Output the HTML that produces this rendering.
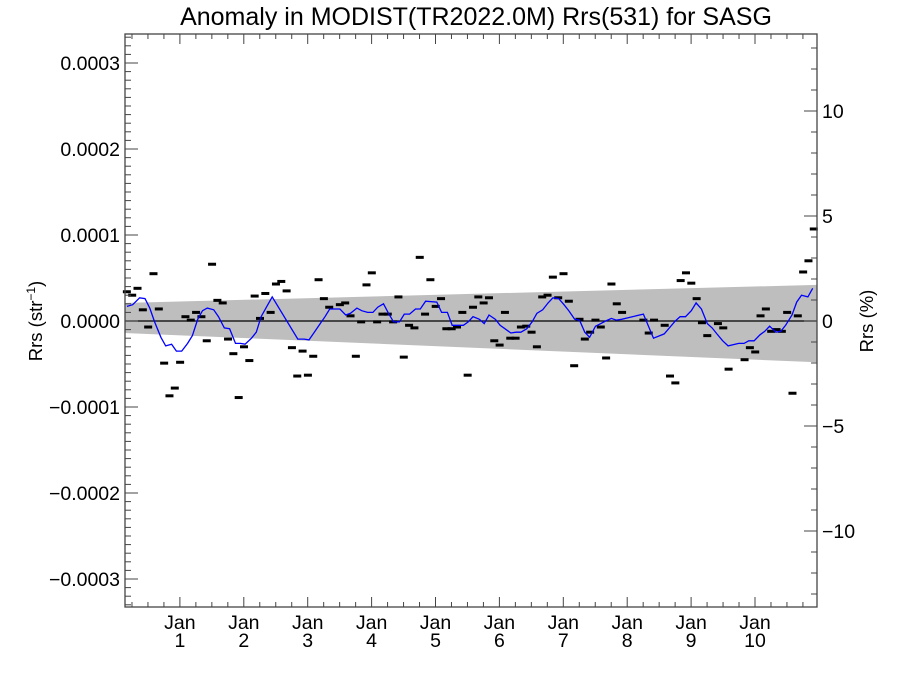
<!DOCTYPE html>
<html><head><meta charset="utf-8"><style>
body{margin:0;background:#fff;}
svg{display:block;font-family:"Liberation Sans",sans-serif;}
</style></head><body>
<svg id="chart" width="900" height="675" viewBox="0 0 900 675">
<rect width="900" height="675" fill="#fff"/>
<text x="476" y="25" text-anchor="middle" font-size="25">Anomaly in MODIST(TR2022.0M) Rrs(531) for SASG</text>
<text transform="translate(42,321) rotate(-90)" text-anchor="middle" font-size="18.5">Rrs (str<tspan baseline-shift="super" font-size="12">−1</tspan>)</text>
<text transform="translate(873,321) rotate(-90)" text-anchor="middle" font-size="18.5">Rrs (%)</text>
<g id="band"></g>
<g id="zero"></g>
<g id="dots"></g>
<g id="smooth"></g>
<g id="axes"></g>
</svg>
<script>
// monthly anomaly points: month index since start, value in 1e-6 sr^-1
const startYear = 0.17;
const dotMonths = [0,1,2,3,4,5,6,7,8,9,10,11,12,13,14,15,16,17,18,19,20,21,22,23,24,25,26,27,28,29,30,31,32,33,34,35,36,37,38,40,41,42,43,44,45,46,47,48,49,50,51,52,53,54,55,56,57,58,59,60,61,62,63,64,65,66,67,68,69,70,71,72,73,74,75,76,77,78,79,80,81,82,83,84,85,86,87,88,89,90,91,92,93,97,98,99,101,102,103,104,105,106,107,108,109,111,112,113,116,117,118,119,120,121,122,123,124,125,126,127,128,129];
const dotValues = [34,30,38,13,-7,55,14,-49,-87,-78,-48,5,1,10,5,-23,66,24,21,-21,-38,-89,-30,-46,29,3,32,10,43,46,35,-31,-64,-35,-63,-41,48,26,16,19,21,6,-41,-1,42,56,-1,8,8,-1,28,-42,-5,-8,74,8,48,17,26,-9,-9,-7,10,-63,16,28,21,27,-23,-28,10,-20,-20,-7,-6,-13,-30,28,30,51,27,55,23,-52,2,-21,-13,1,-7,-43,43,20,10,1,-14,1,-5,-64,-72,47,56,44,26,-2,-17,-3,-8,-56,-45,-31,-36,6,14,-12,-10,-12,10,-84,6,57,70,107];
// smoothed series
const smoothMonths = [0,1.1,2.4,3.4,4.3,5.2,6.4,7.3,8.4,9.3,10.3,11.4,12.3,13.3,14.2,15.1,16.3,17.2,18.3,19.3,20.4,21.3,22.2,23.4,24.3,25.2,26.2,27.3,32.1,33.3,34.2,35.1,36.3,37.2,38.1,40,41.1,42,43.2,44.1,45.2,46.2,47.1,48.2,49.2,50.1,51.2,52.1,53.1,54.2,55.1,56.1,58.2,59.1,60.2,61.1,62.1,63.2,64.1,65,66.2,67.1,68,69.2,70.1,71,72.1,73.1,74,75.1,76.1,77,78.1,79.1,80,81.1,82.1,83,84.1,85,86,86.9,88,89,89.9,91,91.9,92.9,97,98.9,100.9,103,103.9,104.9,106,106.9,107.9,109,109.9,110.8,111.9,112.9,114.9,115.9,116.8,117.8,118.9,119.8,120.7,121.9,122.8,123.7,124.9,125.8,126.7,127.9,128.8];
const smoothValues = [17,19,27,26,15,-1,-19,-29,-27,-35,-35,-26,-17,2,12,15,13,5,-8,-9,-26,-26,-27,-20,-13,5,16,28,-21,-21,-22,-14,-3,5,14,14,7,9,15,12,10,10,16,20,8,-1,-1,8,8,14,14,23,22,10,10,-5,-5,-5,-1,5,2,-3,7,2,-5,-9,-14,-13,-13,-9,-1,9,13,21,27,26,19,12,2,1,-13,-19,-6,-3,0,3,1,2,8,-20,-15,0,5,5,12,21,14,-3,-8,-15,-23,-29,-26,-26,-23,-23,-16,-12,-6,-13,-12,-5,7,22,30,28,38];
// trend band edges (1e-6) at x-domain ends
const bandYears = [0.14, 10.97];
const bandUpper = [21, 42];
const bandLower = [-14, -48];
const yTicksLeft = [-0.0003,-0.0002,-0.0001,0,0.0001,0.0002,0.0003];
const yTickLabelsLeft = ["−0.0003","−0.0002","−0.0001","0.0000","0.0001","0.0002","0.0003"];
const yTicksRight = [-10,-5,0,5,10];
const yTickLabelsRight = ["−10","−5","0","5","10"];
const xTicks = [1,2,3,4,5,6,7,8,9,10];

const L=125,R=817,T=34,B=607;
const x0=116, pxPerYear=63.9;
const xS = yr => x0 + pxPerYear*yr;
const yS = v => 321 - v*860000;
const yS6 = v => yS(v*1e-6);
const yPct = p => 321 - p*21;
const NS="http://www.w3.org/2000/svg";
function mk(tag, attrs, parent){const e=document.createElementNS(NS,tag);for(const k in attrs)e.setAttribute(k,attrs[k]);parent.appendChild(e);return e;}

const band=document.getElementById('band');
const poly=mk('polygon',{points:`${xS(bandYears[0])},${yS6(bandUpper[0])} ${xS(bandYears[1])},${yS6(bandUpper[1])} ${xS(bandYears[1])},${yS6(bandLower[1])} ${xS(bandYears[0])},${yS6(bandLower[0])}`,fill:'#bebebe'},band);



const zl=mk('line',{x1:L,x2:R,y1:yS(0),y2:yS(0),stroke:'#000','stroke-width':1.3},document.getElementById('zero'));



const dots=document.getElementById('dots');
dotMonths.forEach((m,i)=>{
  const cx=xS(startYear+m/12), cy=yS6(dotValues[i]);
  const r=mk('rect',{x:cx-4,y:cy-1.5,width:8,height:3,fill:'#000'},dots);
  
  
});

const pts=smoothMonths.map((m,i)=>`${xS(startYear+m/12).toFixed(1)},${yS6(smoothValues[i]).toFixed(1)}`).join(' ');
const pl=mk('polyline',{points:pts,fill:'none',stroke:'#0000ff','stroke-width':1.3},document.getElementById('smooth'));



const ax=document.getElementById('axes');
const fr=mk('rect',{x:L,y:T,width:R-L,height:B-T,fill:'none',stroke:'#444','stroke-width':1.3},ax);


function ln(x1,y1,x2,y2){mk('line',{x1,y1,x2,y2,stroke:'#444','stroke-width':1},ax);}
for(let k=-33;k<=33;k++){const y=yS(k*1e-5);ln(L,y,L+(k%10===0?13:6),y);}
yTicksLeft.forEach((v,i)=>{
  const t=mk('text',{x:L-5,y:yS(v)+7,'text-anchor':'end','font-size':19.5},ax);t.textContent=yTickLabelsLeft[i];
  
  
});
for(let p=-13;p<=13;p++){const y=yPct(p);ln(R,y,R-(p%5===0?13:6),y);}
yTicksRight.forEach((p,i)=>{
  const t=mk('text',{x:R+5,y:yPct(p)+7,'text-anchor':'start','font-size':19.5},ax);t.textContent=yTickLabelsRight[i];
  
  
});
for(let q=1;q<=43;q++){const yr=q/4;const x=xS(yr);if(x<=L||x>=R)continue;const len=(q%4===0)?10:5;ln(x,B,x,B-len);ln(x,T,x,T+len);}
xTicks.forEach(yr=>{
  const t=mk('text',{x:xS(yr),y:B+22,'text-anchor':'middle','font-size':19.5},ax);t.textContent='Jan';
  
  
  const t2=mk('text',{x:xS(yr),y:B+40,'text-anchor':'middle','font-size':19.5},ax);t2.textContent=String(yr);
  
  
});
</script>
</body></html>
